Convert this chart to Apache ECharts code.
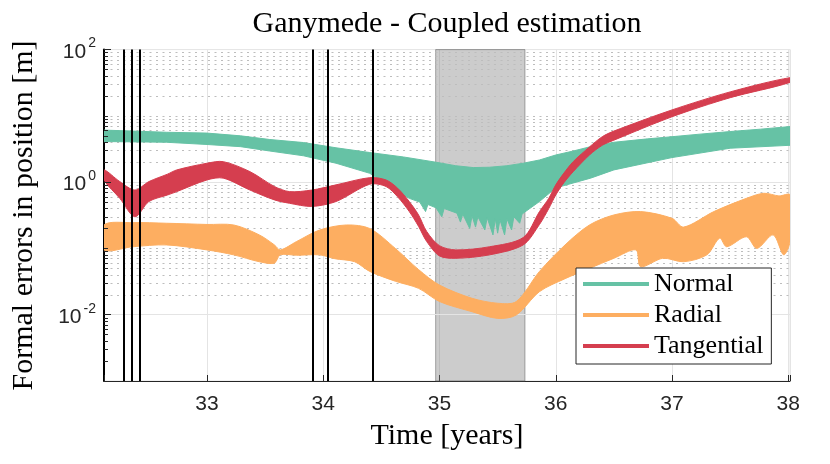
<!DOCTYPE html>
<html>
<head>
<meta charset="utf-8">
<script src="https://cdn.jsdelivr.net/npm/echarts@6/dist/echarts.min.js"></script>
<style>
html, body { margin: 0; padding: 0; background: #fff; }
#chart { width: 830px; height: 464px; }
</style>
</head>
<body>
<div id="chart"></div>
<script>
// envelopes of the three formal-error bands (time in years, error in m)
const normalUpperT = [32.114, 32.36, 32.65, 33.0, 33.29, 33.54, 33.83, 34.11, 34.4, 34.69, 34.97, 35.14, 35.29, 35.43, 35.58, 35.72, 35.86,
  36.0, 36.15, 36.29, 36.43, 36.5, 36.79, 37.0, 37.24, 37.5, 37.76, 38.015];
const normalUpper  = [6.1, 5.9, 5.66, 5.5, 5.0, 4.4, 3.96, 3.3, 2.8, 2.4, 2.0, 1.77, 1.66, 1.68, 1.77, 1.93, 2.16,
  2.57, 2.95, 3.4, 3.8, 4.0, 4.5, 4.85, 5.3, 5.8, 6.3, 6.9];
const normalLowerT = [32.114, 32.65, 33.0, 33.29, 33.54, 33.83, 34.11, 34.4, 34.52, 34.63, 34.74, 34.83, 34.88, 34.9, 34.97, 35.02, 35.04, 35.15, 35.18, 35.2,
  35.26, 35.28, 35.31, 35.33, 35.39, 35.41, 35.46, 35.48, 35.5, 35.52, 35.56, 35.58, 35.62, 35.64, 35.69, 35.71, 35.86, 36.0, 36.3, 36.5, 37.0, 37.5, 38.015];
const normalLower  = [4.1, 4.0, 3.7, 3.43, 2.95, 2.5, 1.93, 1.36, 1.0, 0.72, 0.57, 0.5, 0.36, 0.46, 0.41, 0.30, 0.40, 0.34, 0.25, 0.33,
  0.20, 0.31, 0.21, 0.30, 0.19, 0.29, 0.16, 0.28, 0.17, 0.27, 0.16, 0.28, 0.19, 0.30, 0.24, 0.33, 0.51, 0.82, 1.15, 1.53, 2.35, 3.25, 3.6];

const radialUpperT = [32.114, 32.36, 32.65, 33.0, 33.23, 33.45, 33.58, 33.63, 33.77, 33.97, 34.2, 34.4, 34.62, 34.82, 35.0, 35.28, 35.5, 35.66, 35.86,
  36.08, 36.29, 36.5, 36.73, 37.0, 37.1, 37.36, 37.64, 37.79, 37.92, 38.015];
const radialUpper  = [0.226, 0.245, 0.24, 0.23, 0.226, 0.16, 0.113, 0.095, 0.127, 0.19, 0.226, 0.2, 0.1, 0.048, 0.028, 0.0177, 0.0149, 0.0158, 0.045,
  0.113, 0.226, 0.32, 0.36, 0.285, 0.21, 0.36, 0.57, 0.68, 0.62, 0.64];
const radialLowerT = [32.114, 32.36, 32.65, 33.0, 33.23, 33.45, 33.58, 33.63, 33.77, 33.97, 34.1, 34.27, 34.4, 34.62, 34.82, 35.0, 35.28, 35.5, 35.66, 35.86,
  36.08, 36.29, 36.5, 36.69, 36.73, 36.92, 37.1, 37.3, 37.41, 37.47, 37.64, 37.73, 37.87, 37.96, 38.015];
const radialLower  = [0.095, 0.106, 0.113, 0.095, 0.08, 0.063, 0.06, 0.08, 0.079, 0.08, 0.07, 0.063, 0.045, 0.032, 0.025, 0.0158, 0.0111, 0.0088, 0.0099, 0.0223,
  0.035, 0.05, 0.071, 0.095, 0.053, 0.071, 0.063, 0.08, 0.143, 0.106, 0.15, 0.1, 0.16, 0.08, 0.127];

const tangT    = [32.114, 32.25, 32.38, 32.5, 32.66, 32.74, 33.0, 33.14, 33.37, 33.58, 33.71, 33.9, 34.11, 34.4, 34.54, 34.64, 34.74, 34.82, 34.89,
  35.0, 35.14, 35.43, 35.72, 35.86, 35.94, 36.0, 36.07, 36.15, 36.29, 36.4, 36.5, 37.0, 37.5, 38.015];
const tangLow  = [1.08, 0.57, 0.30, 0.51, 0.64, 0.72, 1.08, 1.15, 0.76, 0.54, 0.48, 0.43, 0.51, 0.93, 0.86, 0.6, 0.36, 0.215, 0.127,
  0.077, 0.071, 0.08, 0.113, 0.23, 0.4, 0.64, 0.98, 1.44, 2.57, 3.6, 4.3, 9.7, 18.8, 32];
const tangHigh = [1.53, 1.02, 0.76, 1.02, 1.32, 1.53, 1.93, 2.04, 1.44, 0.86, 0.72, 0.76, 0.91, 1.17, 1.08, 0.81, 0.51, 0.32, 0.18,
  0.11, 0.095, 0.106, 0.146, 0.36, 0.57, 0.91, 1.37, 2.04, 3.4, 4.85, 5.9, 12.3, 23, 37.7];

// flyby epochs and the shaded interval
const flybys = [32.114, 32.277, 32.355, 32.418, 33.906, 34.038, 34.428];
const shade = [34.967, 35.735];

const xMin = 32.114, xMax = 38.015;
const SERIF = '"Liberation Serif", "Times New Roman", serif';
const SANS = '"Liberation Sans", Arial, sans-serif';
const colNormal = '#66c2a5', colRadial = '#fdae61', colTang = '#d53e4f';

function band(name, color, topT, top, botT, bot, smooth) {
    return {
        name: name,
        type: 'custom',
        z: 2,
        clip: true,
        itemStyle: { color: color },
        encode: { x: 0, y: 1 },
        data: [[topT[0], top[0]]],
        renderItem: function (params, api) {
            let pts = topT.map((t, i) => api.coord([t, top[i]]));
            let low = botT.map((t, i) => api.coord([t, bot[i]])).reverse();
            return {
                type: 'polygon',
                shape: { points: pts.concat(low), smooth: smooth },
                style: { fill: color, stroke: color, lineWidth: 1 }
            };
        }
    };
}

// log-decade grid helpers
let minorVals = [];
for (let k = -3; k <= 1; k++) {
    for (let m = 2; m <= 9; m++) minorVals.push(m * Math.pow(10, k));
}
minorVals.push(0.1, 10);
const majorVals = [0.01, 1];
const pxYear = 116.26;

let tickSegs = [];
minorVals.forEach(v => tickSegs.push([{ coord: [xMin, v] }, { coord: [xMin + 4 / pxYear, v] }]));
[0.01, 1, 100].forEach(v => tickSegs.push([{ coord: [xMin, v] }, { coord: [xMin + 7 / pxYear, v] }]));

let chart = echarts.init(document.getElementById('chart'));
let option = {
    animation: false,
    backgroundColor: '#fff',
    grid: { left: 104, right: 40, top: 49.6, bottom: 83, show: true, borderColor: '#e4e4e4', borderWidth: 1, backgroundColor: '#fff' },
    legend: {
        data: ['Normal', 'Radial', 'Tangential'],
        orient: 'vertical',
        left: 576, top: 268, z: 10,
        icon: 'rect', itemWidth: 66, itemHeight: 4, itemGap: 5,
        padding: [3, 8, 5, 7],
        borderColor: '#262626', borderWidth: 1, backgroundColor: '#fff',
        textStyle: { fontFamily: SERIF, fontSize: 26, color: '#000' }
    },
    xAxis: {
        type: 'value', min: xMin, max: xMax, splitNumber: 6,
        axisLine: { lineStyle: { color: '#262626', width: 1 } },
        axisTick: { inside: true, length: 6, lineStyle: { color: '#262626' } },
        axisLabel: {
            margin: 13, color: '#262626', fontFamily: SANS, fontSize: 21,
            formatter: v => Number.isInteger(v) ? String(v) : ''
        },
        splitLine: { show: true, lineStyle: { color: '#e4e4e4', width: 1 } }
    },
    yAxis: {
        type: 'log', logBase: 10, min: 0.001, max: 100,
        axisLine: { show: true, lineStyle: { color: '#000', width: 2 } },
        axisTick: { show: false },
        splitLine: { show: false },
        axisLabel: {
            margin: 8,
            formatter: function (v) {
                let e = Math.round(Math.log10(v));
                return (e % 2 === 0) ? '{b|10}{s|' + e + '}' : '';
            },
            rich: {
                b: { fontFamily: SANS, fontSize: 21, color: '#262626', lineHeight: 26, verticalAlign: 'bottom' },
                s: { fontFamily: SANS, fontSize: 14, color: '#262626', lineHeight: 14, verticalAlign: 'top', padding: [0, 0, 0, 2] }
            }
        }
    },
    graphic: [
        { type: 'text', x: 447, y: 24, style: { text: 'Ganymede - Coupled estimation', fill: '#000', font: '30px ' + SERIF, align: 'center', verticalAlign: 'middle' } },
        { type: 'text', x: 447, y: 436, style: { text: 'Time [years]', fill: '#000', font: '30px ' + SERIF, align: 'center', verticalAlign: 'middle' } },
        { type: 'text', x: 24, y: 215.5, rotation: Math.PI / 2, style: { text: 'Formal errors in position [m]', fill: '#000', font: '30px ' + SERIF, align: 'center', verticalAlign: 'middle' } }
    ],
    series: [
        band('Normal', colNormal, normalUpperT, normalUpper, normalLowerT, normalLower, 0),
        band('Radial', colRadial, radialUpperT, radialUpper, radialLowerT, radialLower, 0.3),
        band('Tangential', colTang, tangT, tangHigh, tangT, tangLow, 0.3),
        {
            name: 'grid', type: 'line', z: 1, silent: true, data: [],
            markArea: {
                silent: true, z: 1,
                itemStyle: { color: 'rgba(128,128,128,0.4)', borderColor: 'rgba(90,90,90,0.5)', borderWidth: 1 },
                data: [[{ xAxis: shade[0] }, { xAxis: shade[1] }]]
            },
            markLine: {
                silent: true, z: 1, symbol: ['none', 'none'], label: { show: false }, animation: false,
                data: minorVals.map(v => ({ yAxis: v, lineStyle: { color: '#bdbdbd', width: 1, type: [2, 4.5] } }))
                    .concat(majorVals.map(v => ({ yAxis: v, lineStyle: { color: '#e4e4e4', width: 1, type: 'solid' } })))
            }
        },
        {
            name: 'flyby', type: 'line', z: 3, silent: true, data: [],
            markLine: {
                silent: true, z: 3, symbol: ['none', 'none'], label: { show: false }, animation: false,
                lineStyle: { color: '#000', width: 2, type: 'solid' },
                data: flybys.map(t => ({ xAxis: t }))
                    .concat(tickSegs.map(s => [Object.assign({ lineStyle: { color: '#262626', width: 1, type: 'solid' } }, s[0]), s[1]]))
            }
        }
    ]
};
chart.setOption(option);
</script>
</body>
</html>
